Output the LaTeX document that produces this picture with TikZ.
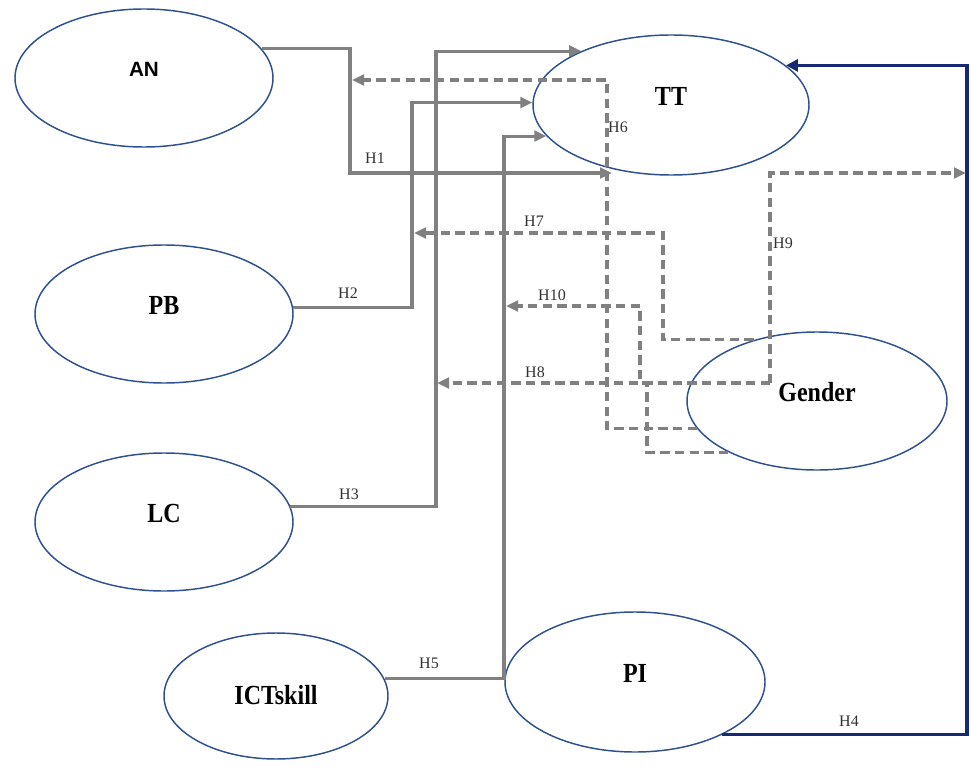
\documentclass[tikz,border=0pt]{standalone}
\usepackage{fontspec}
\setmainfont{Liberation Serif}
\newfontfamily\arialfont{Liberation Sans}
\usetikzlibrary{shapes.geometric,arrows.meta}
\definecolor{ellblue}{RGB}{46,80,145}
\definecolor{navyline}{RGB}{22,42,115}
\definecolor{linegray}{RGB}{128,128,128}
\definecolor{labgray}{RGB}{50,50,50}
\newcommand{\tallname}[1]{\scalebox{1}[1.15]{#1}}
\tikzset{
  construct/.style={ellipse, draw=ellblue, line width=1.1pt, inner sep=0pt,
    font=\bfseries\fontsize{18}{20}\selectfont, text depth=13pt},
  link/.style={draw=linegray, line width=2.3pt, -{Triangle[length=9pt,width=8pt]}},
  modlink/.style={link, dash pattern=on 7pt off 4pt},
  bluelink/.style={draw=navyline, line width=2.5pt, -{Triangle[length=9pt,width=9pt]}},
  hlabel/.style={font=\fontsize{12}{14}\selectfont, text=labgray, inner sep=1pt}
}
\begin{document}
\begin{tikzpicture}[x=0.75pt, y=-0.75pt]
\useasboundingbox (0,0) rectangle (971,781);
% constructs
\node[construct, minimum width=193.5pt, minimum height=103.5pt, font=\arialfont\bfseries\fontsize{15.5}{18}\selectfont] (AN) at (144,78) {AN};
\node[construct, minimum width=207pt, minimum height=105pt] (TT) at (671,105) {\tallname{TT}};
\node[construct, minimum width=193.5pt, minimum height=103.5pt] (PB) at (164,314) {\tallname{PB}};
\node[construct, minimum width=193.5pt, minimum height=103.5pt] (LC) at (164,522) {\tallname{LC}};
\node[construct, minimum width=168pt, minimum height=94.5pt, text depth=2pt] (ICT) at (276,696) {\tallname{ICTskill}};
\node[construct, minimum width=195pt, minimum height=105pt] (PI) at (635,682) {\tallname{PI}};
\node[construct, minimum width=195pt, minimum height=103.5pt] (Gender) at (817,401) {\tallname{Gender}};
% free ends
\coordinate (tt1) at (612,173);
\coordinate (h6end) at (352,80);
\coordinate (h7end) at (414,233);
\coordinate (h10end) at (506,306);
\coordinate (h8end) at (437,383);
\coordinate (h9end) at (966,173);
\coordinate (g89) at (770,383);
% direct paths
\draw[link] (AN.14.5) -- (350,0 |- AN.14.5) |- (tt1);
\draw[link] (PB.3) -- (412,0 |- PB.3) |- (TT.179);
\draw[link] (LC.7) -- (436,0 |- LC.7) |- (TT.149);
\draw[link] (ICT.9) -- (504,0 |- ICT.9) |- (TT.194);
\draw[bluelink] (PI.329) -- (967,0 |- PI.329) |- (TT.19.3);
% moderation paths
\draw[modlink] (Gender.193) -- (607,0 |- Gender.193) |- (h6end);
\draw[modlink] (Gender.136) -- (663,0 |- Gender.136) |- (h7end);
\draw[modlink] (Gender.210) -- (647,0 |- Gender.210) -- (647,383) -- (640,383) |- (h10end);
\draw[modlink] (g89) -- (h8end);
\draw[modlink] (g89) |- (h9end);
% labels
\node[hlabel] (l1) at (375,158) {H1};
\node[hlabel] (l2) at (348,293) {H2};
\node[hlabel] (l3) at (349,494) {H3};
\node[hlabel] (l4) at (849,721) {H4};
\node[hlabel] (l5) at (429,663) {H5};
\node[hlabel] (l6) at (618,127) {H6};
\node[hlabel] (l7) at (534,221) {H7};
\node[hlabel] (l8) at (535,372) {H8};
\node[hlabel] (l9) at (783,243) {H9};
\node[hlabel] (l10) at (552,295) {H10};
\end{tikzpicture}
\end{document}
